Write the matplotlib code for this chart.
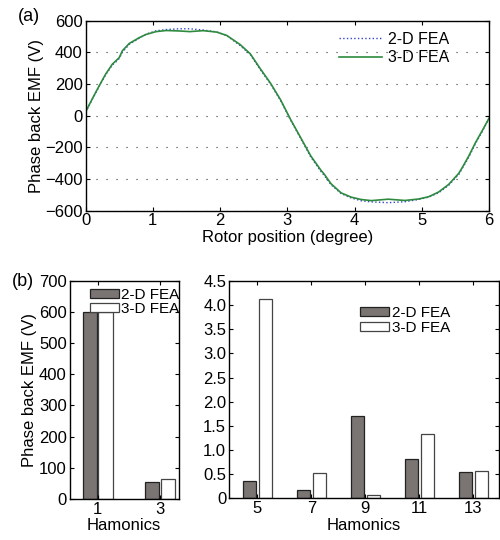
import numpy as np
import matplotlib.pyplot as plt

# rotor position (degree) and phase back EMF (V)
pos = [0, 0.1, 0.2, 0.3, 0.4, 0.45, 0.5, 0.55, 0.65, 0.8, 0.9, 1.05, 1.2, 1.4, 1.55,
       1.75, 1.95, 2.1, 2.3, 2.45, 2.6, 2.75, 2.9, 3.05, 3.2, 3.35, 3.5, 3.55, 3.65,
       3.8, 3.95, 4.1, 4.25, 4.5, 4.75, 4.95, 5.1, 5.25, 5.4, 5.55, 5.6, 5.7, 5.8,
       5.9, 6.0]
emf_3d = [22, 105, 185, 262, 325, 345, 365, 410, 455, 492, 512, 530, 537, 534, 530,
          536, 527, 506, 448, 390, 295, 205, 100, -25, -140, -255, -345, -370, -430,
          -488, -515, -530, -537, -528, -536, -527, -513, -483, -435, -365, -330,
          -255, -170, -95, -17]
emf_2d = [20, 102, 182, 258, 320, 338, 360, 400, 450, 488, 514, 535, 543, 548, 548,
          540, 528, 505, 442, 385, 290, 200, 95, -28, -145, -262, -352, -378, -436,
          -492, -520, -538, -545, -550, -544, -530, -515, -488, -440, -372, -335,
          -262, -175, -100, -18]

harm_low = [1, 3]
low_2d = [600, 53]
low_3d = [600, 65]
harm_high = [5, 7, 9, 11, 13]
high_2d = [0.35, 0.18, 1.70, 0.81, 0.55]
high_3d = [4.13, 0.53, 0.08, 1.33, 0.56]

plt.rcParams['font.family'] = ['Liberation Sans', 'DejaVu Sans']
plt.rcParams['font.size'] = 12

fig = plt.figure(figsize=(5.0, 5.4), dpi=100)

# (a) waveform
ax = fig.add_axes([0.171, 0.610, 0.807, 0.352])
ax.plot(pos, emf_2d, ':', color='#3344cc', lw=1.0, label='2-D FEA')
ax.plot(pos, emf_3d, '-', color='#2e8b3e', lw=1.2, label='3-D FEA')
ax.set_xlim(0, 6)
ax.set_ylim(-600, 600)
ax.set_yticks(np.arange(-600, 601, 200))
ax.set_xticks(range(7))
ax.yaxis.grid(True, linestyle=(0, (1, 8)), color='#333333', lw=0.8)
ax.tick_params(direction='in', top=True, right=True, length=3, pad=2)
ax.set_xlabel('Rotor position (degree)', labelpad=1)
ax.set_ylabel('Phase back EMF (V)', labelpad=1)
ax.legend(loc='upper left', bbox_to_anchor=(0.628, 0.94), frameon=False,
          handlelength=2.7, borderaxespad=0, borderpad=0, labelspacing=0.2,
          handletextpad=0.35, fontsize=11.5)
fig.text(0.036, 0.97, '(a)', fontsize=13, va='center')

bar_kw_2d = dict(color='#7a7573', edgecolor='#222222', lw=0.9)
bar_kw_3d = dict(color='white', edgecolor='#444444', lw=0.9)

# (b) low order harmonics
ax1 = fig.add_axes([0.139, 0.076, 0.219, 0.404])
x1 = np.array(harm_low, dtype=float)
ax1.bar(x1 - 0.25, low_2d, width=0.45, label='2-D FEA', **bar_kw_2d)
ax1.bar(x1 + 0.25, low_3d, width=0.45, label='3-D FEA', **bar_kw_3d)
ax1.set_xlim(0.1, 3.6)
ax1.set_ylim(0, 700)
ax1.set_xticks(harm_low)
ax1.set_yticks(range(0, 701, 100))
ax1.tick_params(direction='in', top=True, right=True, length=3, pad=2)
ax1.set_xlabel('Hamonics', labelpad=1)
ax1.set_ylabel('Phase back EMF (V)', labelpad=1)
ax1.legend(loc='upper left', bbox_to_anchor=(0.187, 0.967), frameon=False, fontsize=11,
           handlelength=1.9, handleheight=0.5, borderaxespad=0, borderpad=0,
           labelspacing=0.0, handletextpad=0.15)
fig.text(0.024, 0.479, '(b)', fontsize=13, va='center')

# (b) high order harmonics
ax2 = fig.add_axes([0.458, 0.077, 0.540, 0.403])
x2 = np.array(harm_high, dtype=float)
ax2.bar(x2 - 0.3, high_2d, width=0.47, label='2-D FEA', **bar_kw_2d)
ax2.bar(x2 + 0.3, high_3d, width=0.47, label='3-D FEA', **bar_kw_3d)
ax2.set_xlim(3.95, 13.95)
ax2.set_ylim(0, 4.5)
ax2.set_xticks(harm_high)
ax2.set_yticks(np.arange(0, 4.51, 0.5))
ax2.set_yticklabels(['0'] + ['%.1f' % v for v in np.arange(0.5, 4.51, 0.5)])
ax2.tick_params(direction='in', top=True, right=True, length=3, pad=2)
ax2.set_xlabel('Hamonics', labelpad=1)
ax2.legend(loc='upper left', bbox_to_anchor=(0.485, 0.885), frameon=False, fontsize=11,
           handlelength=1.9, handleheight=0.5, borderaxespad=0, borderpad=0,
           labelspacing=0.05, handletextpad=0.2)

for a in (ax, ax1, ax2):
    for s in a.spines.values():
        s.set_linewidth(1.0)

fig.savefig('out.png', dpi=100)
